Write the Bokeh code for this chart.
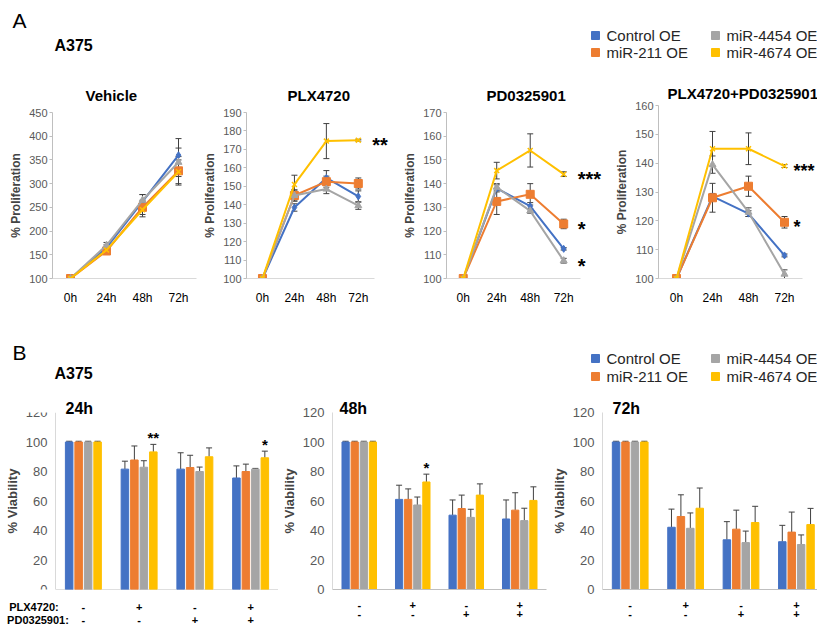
from bokeh.plotting import figure
from bokeh.layouts import column, row
from bokeh.models import (ColumnDataSource, Whisker, TeeHead, LabelSet, Label,
                          Range1d, LinearAxis, FixedTicker, Title)
from bokeh.core.properties import value
from bokeh.embed import file_html
from bokeh.resources import INLINE

FONT = "Liberation Sans"

series = ["Control OE", "miR-211 OE", "miR-4454 OE", "miR-4674 OE"]
colors = ["#4472C4", "#ED7D31", "#A5A5A5", "#FFC000"]
markers = ["diamond", "square", "triangle", "x"]
times = ["0h", "24h", "48h", "72h"]

# ---------------- Panel A data (% Proliferation) ----------------
veh_ctrl = [100, 165, 262, 360]
veh_211 = [100, 158, 250, 327]
veh_4454 = [100, 170, 265, 345]
veh_4674 = [100, 160, 245, 325]
veh_ctrl_err = [1, 6, 15, 35]
veh_211_err = [1, 5, 15, 30]
veh_4454_err = [1, 6, 12, 30]
veh_4674_err = [1, 5, 15, 25]

plx_ctrl = [100, 138.5, 154.5, 144.5]
plx_211 = [100, 145, 152.5, 151.5]
plx_4454 = [100, 145, 148.5, 139.5]
plx_4674 = [100, 151, 174.5, 175]
plx_ctrl_err = [0.5, 2, 4, 3]
plx_211_err = [0.5, 3, 3, 3]
plx_4454_err = [0.5, 3, 2.5, 2]
plx_4674_err = [0.5, 5, 9.5, 0.5]

pd_ctrl = [100, 138, 130.5, 112.5]
pd_211 = [100, 132.5, 135.5, 123]
pd_4454 = [100, 138.5, 128.5, 107.5]
pd_4674 = [100, 145.5, 154, 144]
pd_ctrl_err = [0.5, 1.5, 1.5, 0.5]
pd_211_err = [0.5, 5.5, 4.5, 2]
pd_4454_err = [0.5, 1.5, 1, 1]
pd_4674_err = [0.5, 3.5, 7, 1]

combo_ctrl = [100, 128.5, 122.5, 108]
combo_211 = [100, 128, 132, 119.5]
combo_4454 = [100, 139.5, 123, 101.5]
combo_4674 = [100, 145, 145, 139]
combo_ctrl_err = [0.5, 1, 1, 0.5]
combo_211_err = [0.5, 5, 3.5, 2]
combo_4454_err = [0.5, 3, 1.5, 1.5]
combo_4674_err = [0.5, 6, 5.5, 0.5]

plx_star_y = [175]
plx_star_txt = ["**"]
pd_star_y = [144, 123, 107.5]
pd_star_txt = ["***", "*", "*"]
combo_star_y = [139, 119.5]
combo_star_txt = ["***", "*"]

# ---------------- Panel B data (% Viability) ----------------
groups = ["Vehicle", "PLX4720", "PD0325901", "PLX+PD"]
plx_signs = ["-", "+", "-", "+"]
pd_signs = ["-", "-", "+", "+"]
row_labels = ["PLX4720:", "PD0325901:"]

h24_ctrl = [100, 81.6, 81.6, 75.6]
h24_211 = [100, 87.8, 82.7, 80.0]
h24_4454 = [100, 82.9, 80.0, 81.6]
h24_4674 = [100, 93.3, 90.0, 89.3]
h24_ctrl_err = [0.5, 5.4, 11.1, 8.2]
h24_211_err = [0.5, 9.5, 8.3, 5.0]
h24_4454_err = [0.5, 4.4, 3.0, 0.5]
h24_4674_err = [0.5, 5.1, 6.0, 4.5]

h48_ctrl = [100, 61.1, 50.4, 47.8]
h48_211 = [100, 61.1, 54.9, 53.8]
h48_4454 = [100, 57.3, 48.9, 46.7]
h48_4674 = [100, 72.9, 64.0, 60.4]
h48_ctrl_err = [0.5, 9.6, 10.3, 12.9]
h48_211_err = [0.5, 7.1, 9.1, 11.8]
h48_4454_err = [0.5, 5.4, 5.5, 8.4]
h48_4674_err = [0.5, 5.3, 7.6, 9.2]

h72_ctrl = [100, 42.2, 33.7, 32.4]
h72_211 = [100, 49.5, 40.9, 38.9]
h72_4454 = [100, 41.5, 31.8, 30.5]
h72_4674 = [100, 55.1, 45.4, 44.0]
h72_ctrl_err = [0.5, 12.3, 12.3, 11.1]
h72_211_err = [0.5, 14.7, 12.9, 13.6]
h72_4454_err = [0.5, 10.4, 7.8, 6.5]
h72_4674_err = [0.5, 13.7, 11.0, 11.0]

h24_star_groups = ["PLX4720", "PLX+PD"]
h24_star_txt = ["**", "*"]
h48_star_groups = ["PLX4720"]
h48_star_txt = ["*"]

offsets = [-0.255, -0.085, 0.085, 0.255]
ERR_COLOR = "#404040"


def header(height, letter, letter_y, a375_y, row1_y, row2_y):
    # header canvas uses pixel coordinates (x to the right, y upwards)
    h = figure(width=817, height=height, x_range=Range1d(0, 817), y_range=Range1d(0, height),
               output_backend="svg", toolbar_location=None, min_border=0,
               x_axis_location=None, y_axis_location=None, outline_line_color=None)
    h.grid.visible = False
    h.add_layout(Label(x=12, y=letter_y, text=letter, text_font=FONT, text_font_size="21px",
                       text_baseline="middle", text_color="black"))
    h.add_layout(Label(x=54, y=a375_y, text="A375", text_font=FONT, text_font_size="16px",
                       text_font_style="bold", text_baseline="middle", text_color="black"))
    # legend: two columns of colour keys with their series names
    key_x = [595, 595, 715, 715]
    key_y = [row1_y, row2_y, row1_y, row2_y]
    src = ColumnDataSource(dict(x=key_x, y=key_y, c=colors, s=series,
                                tx=[k + 11 for k in key_x]))
    h.scatter("x", "y", source=src, marker="square", size=8, color="c")
    h.add_layout(LabelSet(x="tx", y="y", text="s", source=src, text_font=value(FONT),
                          text_font_size="15px", text_baseline="middle",
                          text_color="#262626"))
    return h


def line_panel(title, ymin, ymax, step, vals, errs, star_y, star_txt,
               width, bl, br, bt, unit_px, title_left, title_standoff, star_dx, star_size):
    frame_px = width - bl - br
    xs = [i + 0.5 for i in range(len(times))]
    p = figure(width=width, height=235, x_range=Range1d(0, frame_px / unit_px),
               y_range=Range1d(ymin, ymax), output_backend="svg", toolbar_location=None,
               min_border_left=bl, min_border_right=br, min_border_top=bt,
               min_border_bottom=32, outline_line_color=None)
    p.grid.visible = False
    p.title = Title(text=title, align="left", offset=title_left, standoff=title_standoff,
                    text_font=FONT, text_font_size="15px", text_font_style="bold",
                    text_color="black")
    p.yaxis.ticker = FixedTicker(ticks=list(range(ymin, ymax + 1, step)))
    p.yaxis.axis_label = "% Proliferation"
    p.yaxis.axis_label_text_font = FONT
    p.yaxis.axis_label_text_font_size = "12px"
    p.yaxis.axis_label_text_font_style = "bold"
    p.yaxis.axis_label_standoff = 3
    p.yaxis.major_label_standoff = 2
    p.yaxis.major_label_text_font = FONT
    p.yaxis.major_label_text_font_size = "11px"
    p.yaxis.major_label_text_color = "#595959"
    p.yaxis.axis_line_color = "#BFBFBF"
    p.yaxis.major_tick_line_color = "#BFBFBF"
    p.yaxis.major_tick_out = 3
    p.yaxis.major_tick_in = 0
    p.yaxis.minor_tick_line_color = None
    p.xaxis.ticker = FixedTicker(ticks=xs)
    p.xaxis.major_label_overrides = {x: t for x, t in zip(xs, times)}
    p.xaxis.bounds = (0, len(times))
    p.xaxis.axis_line_color = "#D9D9D9"
    p.xaxis.major_tick_line_color = None
    p.xaxis.minor_tick_line_color = None
    p.xaxis.major_tick_out = 0
    p.xaxis.major_label_standoff = 12
    p.xaxis.major_label_text_font = FONT
    p.xaxis.major_label_text_font_size = "12px"
    p.xaxis.major_label_text_color = "black"
    for i in range(4):
        v, e = vals[i], errs[i]
        src = ColumnDataSource(dict(x=xs, v=v, lo=[a - b for a, b in zip(v, e)],
                                    hi=[a + b for a, b in zip(v, e)]))
        p.add_layout(Whisker(base="x", upper="hi", lower="lo", source=src,
                             line_color=ERR_COLOR, line_width=1,
                             upper_head=TeeHead(size=6, line_color=ERR_COLOR, line_width=1),
                             lower_head=TeeHead(size=6, line_color=ERR_COLOR, line_width=1)))
        p.line("x", "v", source=src, color=colors[i], line_width=2)
        if markers[i] == "x":
            p.scatter("x", "v", source=src, marker="x", size=7, line_color=colors[i],
                      line_width=1.5)
        else:
            sz = 8 if markers[i] == "square" else 7
            p.scatter("x", "v", source=src, marker=markers[i], size=sz, color=colors[i])
    if star_y:
        ssrc = ColumnDataSource(dict(x=[xs[-1]] * len(star_y), v=star_y, s=star_txt))
        p.add_layout(LabelSet(x="x", y="v", text="s", source=ssrc, x_offset=star_dx,
                              y_offset=-5, text_font=value(FONT), text_font_size=star_size,
                              text_font_style="bold", text_baseline="middle",
                              text_color="black"))
    return p


def bar_panel(label, vals, errs, star_groups, star_txt, width, bl, br, axis_px,
              unit_px, title_offset, with_rows):
    n = len(groups)
    frame_px = width - bl - br
    xstart = -axis_px / unit_px
    xend = (frame_px - axis_px) / unit_px
    centers = [i + 0.5 for i in range(n)]
    p = figure(width=width, height=242, x_range=Range1d(xstart, xend),
               y_range=Range1d(0, 120), output_backend="svg", toolbar_location=None,
               min_border_left=bl, min_border_right=br, min_border_top=26,
               min_border_bottom=38, outline_line_color=None)
    p.grid.visible = False
    p.title = Title(text=label, align="left", offset=title_offset, standoff=-8,
                    text_font=FONT, text_font_size="16px", text_font_style="bold",
                    text_color="black")
    p.yaxis.ticker = FixedTicker(ticks=list(range(0, 121, 20)))
    p.yaxis.axis_label = "% Viability"
    p.yaxis.axis_label_text_font = FONT
    p.yaxis.axis_label_text_font_size = "13px"
    p.yaxis.axis_label_text_font_style = "bold"
    p.yaxis.axis_label_standoff = 3
    p.yaxis.major_label_standoff = 8
    p.yaxis.major_label_text_font = FONT
    p.yaxis.major_label_text_font_size = "13px"
    p.yaxis.major_label_text_color = "#595959"
    p.yaxis.axis_line_color = "#D9D9D9"
    p.yaxis.major_tick_line_color = None
    p.yaxis.minor_tick_line_color = None
    p.yaxis.major_tick_out = 0
    if axis_px > 0:
        p.yaxis.fixed_location = 0
    # first row of signs (PLX4720) and second row (PD0325901)
    ticks1 = list(centers)
    labels1 = dict(zip(centers, plx_signs))
    ticks2 = list(centers)
    labels2 = dict(zip(centers, pd_signs))
    if with_rows:
        r1 = -0.386
        r2 = -0.314
        ticks1.append(r1)
        labels1[r1] = row_labels[0]
        ticks2.append(r2)
        labels2[r2] = row_labels[1]
    xa = p.xaxis[0]
    xa.ticker = FixedTicker(ticks=ticks1)
    xa.major_label_overrides = labels1
    xa.axis_line_color = None if axis_px > 0 else "#BFBFBF"
    xa.major_tick_line_color = None
    xa.minor_tick_line_color = None
    xa.major_tick_out = 0
    xa.major_label_standoff = 11
    xa.major_label_text_font = FONT
    xa.major_label_text_font_size = "11px"
    xa.major_label_text_font_style = "bold"
    xa.major_label_text_color = "black"
    xb = LinearAxis(ticker=FixedTicker(ticks=ticks2), major_label_overrides=labels2,
                    axis_line_color=None, major_tick_line_color=None,
                    minor_tick_line_color=None, major_tick_out=0, major_label_standoff=-2,
                    major_label_text_font=FONT, major_label_text_font_size="11px",
                    major_label_text_font_style="bold", major_label_text_color="black")
    p.add_layout(xb, "below")
    if axis_px > 0:
        p.segment(x0=0, x1=n, y0=0, y1=0, line_color="#BFBFBF", line_width=1)
    for i in range(4):
        v, e = vals[i], errs[i]
        xs = [c + offsets[i] for c in centers]
        src = ColumnDataSource(dict(x=xs, v=v, hi=[a + b for a, b in zip(v, e)]))
        p.vbar(x="x", top="v", width=0.135, source=src, color=colors[i])
        p.add_layout(Whisker(base="x", upper="hi", lower="v", source=src,
                             line_color=ERR_COLOR, line_width=1, lower_head=None,
                             upper_head=TeeHead(size=6, line_color=ERR_COLOR, line_width=1)))
    if star_groups:
        yel_hi = dict(zip(groups, [a + b for a, b in zip(vals[3], errs[3])]))
        ssrc = ColumnDataSource(dict(
            x=[centers[groups.index(g)] + offsets[3] for g in star_groups],
            v=[yel_hi[g] for g in star_groups], s=star_txt))
        p.add_layout(LabelSet(x="x", y="v", text="s", source=ssrc, y_offset=-2,
                              text_align="center", text_baseline="bottom",
                              text_font=value(FONT), text_font_size="15px",
                              text_font_style="bold", text_color="black"))
    return p


hA = header(75, "A", 55, 30, 40, 23)

p1 = line_panel("Vehicle", 100, 450, 50,
                [veh_ctrl, veh_211, veh_4454, veh_4674],
                [veh_ctrl_err, veh_211_err, veh_4454_err, veh_4674_err],
                [], [], 200, 52, 2, 37, 36, 33, 17, 14, "20px")
p2 = line_panel("PLX4720", 100, 190, 10,
                [plx_ctrl, plx_211, plx_4454, plx_4674],
                [plx_ctrl_err, plx_211_err, plx_4454_err, plx_4674_err],
                plx_star_y, plx_star_txt, 200, 41, 2, 37, 33, 41, 17, 14, "20px")
p3 = line_panel("PD0325901", 100, 170, 10,
                [pd_ctrl, pd_211, pd_4454, pd_4674],
                [pd_ctrl_err, pd_211_err, pd_4454_err, pd_4674_err],
                pd_star_y, pd_star_txt, 212, 42, 2, 37, 34.3, 40, 17, 14, "20px")
p4 = line_panel("PLX4720+PD0325901", 100, 160, 10,
                [combo_ctrl, combo_211, combo_4454, combo_4674],
                [combo_ctrl_err, combo_211_err, combo_4454_err, combo_4674_err],
                combo_star_y, combo_star_txt, 205, 46, 0, 30, 36, 9, 7, 9, "18px")

hB = header(76, "B", 34, 13, 28, 10)

b1 = bar_panel("24h", [h24_ctrl, h24_211, h24_4454, h24_4674],
               [h24_ctrl_err, h24_211_err, h24_4454_err, h24_4674_err],
               h24_star_groups, h24_star_txt, 278, 0, 0, 55, 55.75, 65, True)
b2 = bar_panel("48h", [h48_ctrl, h48_211, h48_4454, h48_4674],
               [h48_ctrl_err, h48_211_err, h48_4454_err, h48_4674_err],
               h48_star_groups, h48_star_txt, 270, 43, 2, 0, 56.25, 7, False)
b3 = bar_panel("72h", [h72_ctrl, h72_211, h72_4454, h72_4674],
               [h72_ctrl_err, h72_211_err, h72_4454_err, h72_4674_err],
               [], [], 269, 42, 0, 0, 58.5, 10, False)

layout = column(hA, row(p1, p2, p3, column(p4, spacing=0), spacing=0), hB,
                row(b1, b2, b3, spacing=0), spacing=0)

open("out.html", "w").write(file_html(layout, INLINE))
